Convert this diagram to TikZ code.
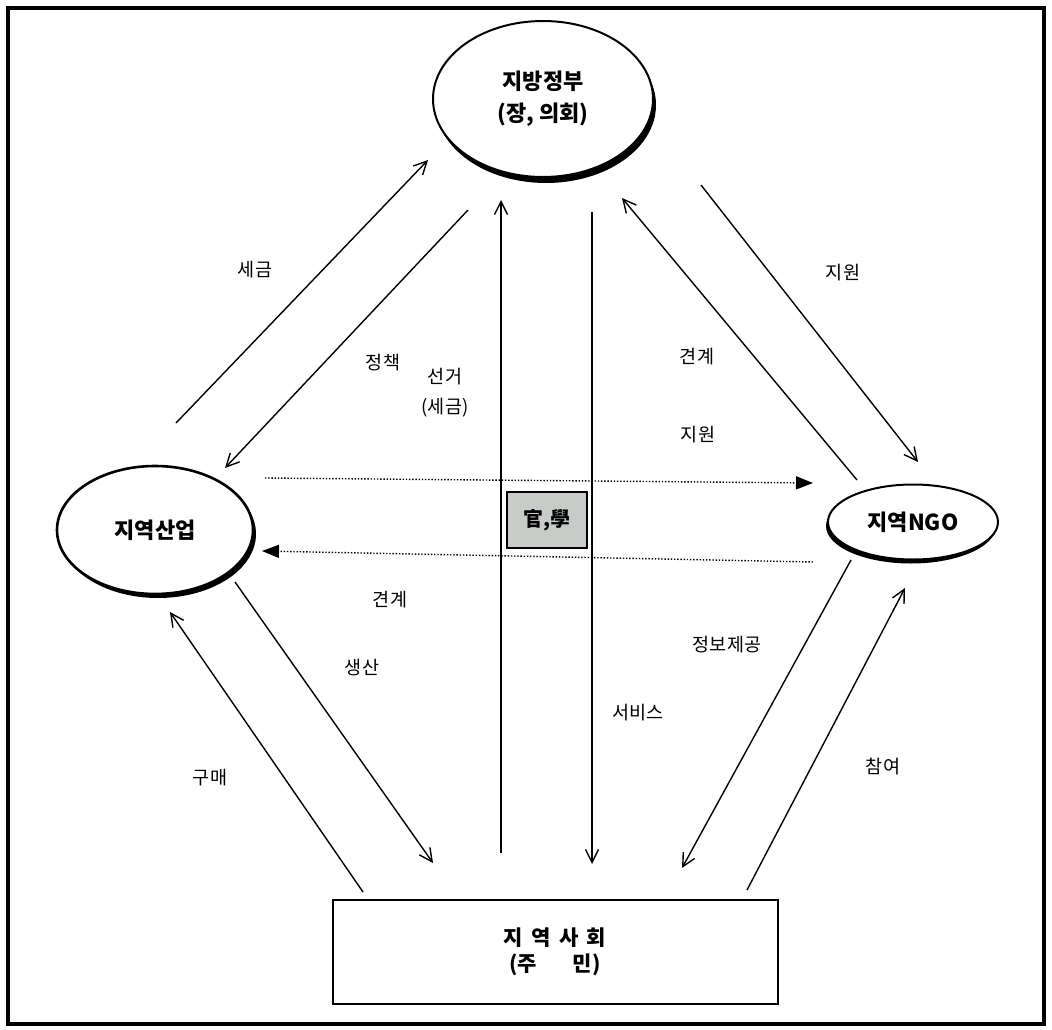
\documentclass[tikz,border=0pt]{standalone}
\usepackage{fontspec}
\setmainfont{Noto Sans CJK KR}
\usetikzlibrary{arrows.meta,shapes.geometric,shadows}

\tikzset{
  actor/.style={ellipse, draw, line width=2pt, fill=white, align=center, inner sep=0pt,
    font=\bfseries\fontsize{22}{32}\selectfont},
  flow/.style={line width=1.4pt, -{Straight Barb[length=13pt,width=13pt,line width=1.4pt]}},
  link/.style={line width=1.4pt, dash pattern=on 1.4pt off 1.8pt, -{Triangle[length=17pt,width=13pt]}},
  tag/.style={inner sep=0pt, align=center, font=\fontsize{18.5}{30}\selectfont}
}

\begin{document}
\begin{tikzpicture}[x=1pt,y=-1pt]
        \useasboundingbox (0,0) rectangle (1052,1030);
        % Frame
        \draw[line width=3.5pt] (8,8) rectangle (1044,1024);

        % Actors
        \node[actor, minimum width=220pt, minimum height=156pt,
          drop shadow={shadow xshift=3pt, shadow yshift=-6pt, fill=black, opacity=1}]
          (gov) at (543,99) {지방정부\\(장, 의회)};
        \node[actor, line width=2.6pt, minimum width=196pt, minimum height=128pt,
          drop shadow={shadow xshift=3pt, shadow yshift=-4pt, fill=black, opacity=1}]
          (ind) at (155,530) {지역산업};
        \node[actor, minimum width=170pt, minimum height=75pt,
          drop shadow={shadow xshift=-2pt, shadow yshift=-4pt, fill=black, opacity=1}]
          (ngo) at (913,522) {지역NGO};
        \node[draw, line width=2pt, minimum width=445pt, minimum height=104pt, align=center,
          font=\bfseries\fontsize{21}{26}\selectfont]
          (com) at (555,952) {지\hspace{0.4em}역\hspace{0.4em}사\hspace{0.4em}회\\(주\hspace{1.7em}민)};
        \node[draw, line width=1.5pt, fill={rgb,255:red,200;green,204;blue,200},
          minimum width=80pt, minimum height=56pt, font=\bfseries\fontsize{20}{24}\selectfont]
          (hub) at (547,520) {官,學};

        % Coordinates
        \coordinate (taxS) at (176,423);
        \coordinate (taxE) at (428,160);
        \coordinate (polS) at (468,210);
        \coordinate (polE) at (225,468);
        \coordinate (voteS) at (501,853);
        \coordinate (voteE) at (501,200);
        \coordinate (servS) at (592,212);
        \coordinate (servE) at (592,864);
        \coordinate (tieS) at (857,480);
        \coordinate (tieE) at (622,198);
        \coordinate (aidS) at (701,185);
        \coordinate (aidE) at (918,462);
        \coordinate (fwdS) at (265,478);
        \coordinate (fwdE) at (813,483);
        \coordinate (bwdS) at (813,562);
        \coordinate (bwdE) at (262,551);
        \coordinate (prodS) at (235,582);
        \coordinate (prodE) at (433,863);
        \coordinate (buyS) at (363,892);
        \coordinate (buyE) at (170,612);
        \coordinate (infoS) at (851,560);
        \coordinate (infoE) at (682,868);
        \coordinate (joinS) at (747,890);
        \coordinate (joinE) at (905,588);

        % Connectors
        \draw[flow] (taxS) -- (taxE);
        \draw[flow] (polS) -- (polE);
        \draw[flow] (voteS) -- (voteE);
        \draw[flow] (servS) -- (servE);
        \draw[flow] (tieS) -- (tieE);
        \draw[flow] (aidS) -- (aidE);
        \draw[link] (fwdS) -- (fwdE);
        \draw[link] (bwdS) -- (bwdE);
        \draw[flow] (prodS) -- (prodE);
        \draw[flow] (buyS) -- (buyE);
        \draw[flow] (infoS) -- (infoE);
        \draw[flow] (joinS) -- (joinE);

        % Labels
        \node[tag] (lTax) at (255,270) {세금};
        \node[tag] (lPol) at (383,363) {정책};
        \node[tag] (lVote) at (445,393) {선거\\(세금)};
        \node[tag] (lAid) at (843,273) {지원};
        \node[tag] (lTie) at (697,357) {견계};
        \node[tag] (lAid2) at (698,435) {지원};
        \node[tag] (lTie2) at (390,600) {견계};
        \node[tag] (lProd) at (362,668) {생산};
        \node[tag] (lBuy) at (210,778) {구매};
        \node[tag] (lServ) at (638,713) {서비스};
        \node[tag] (lInfo) at (727,645) {정보제공};
        \node[tag] (lJoin) at (883,767) {참여};
    \end{tikzpicture}
\end{document}
